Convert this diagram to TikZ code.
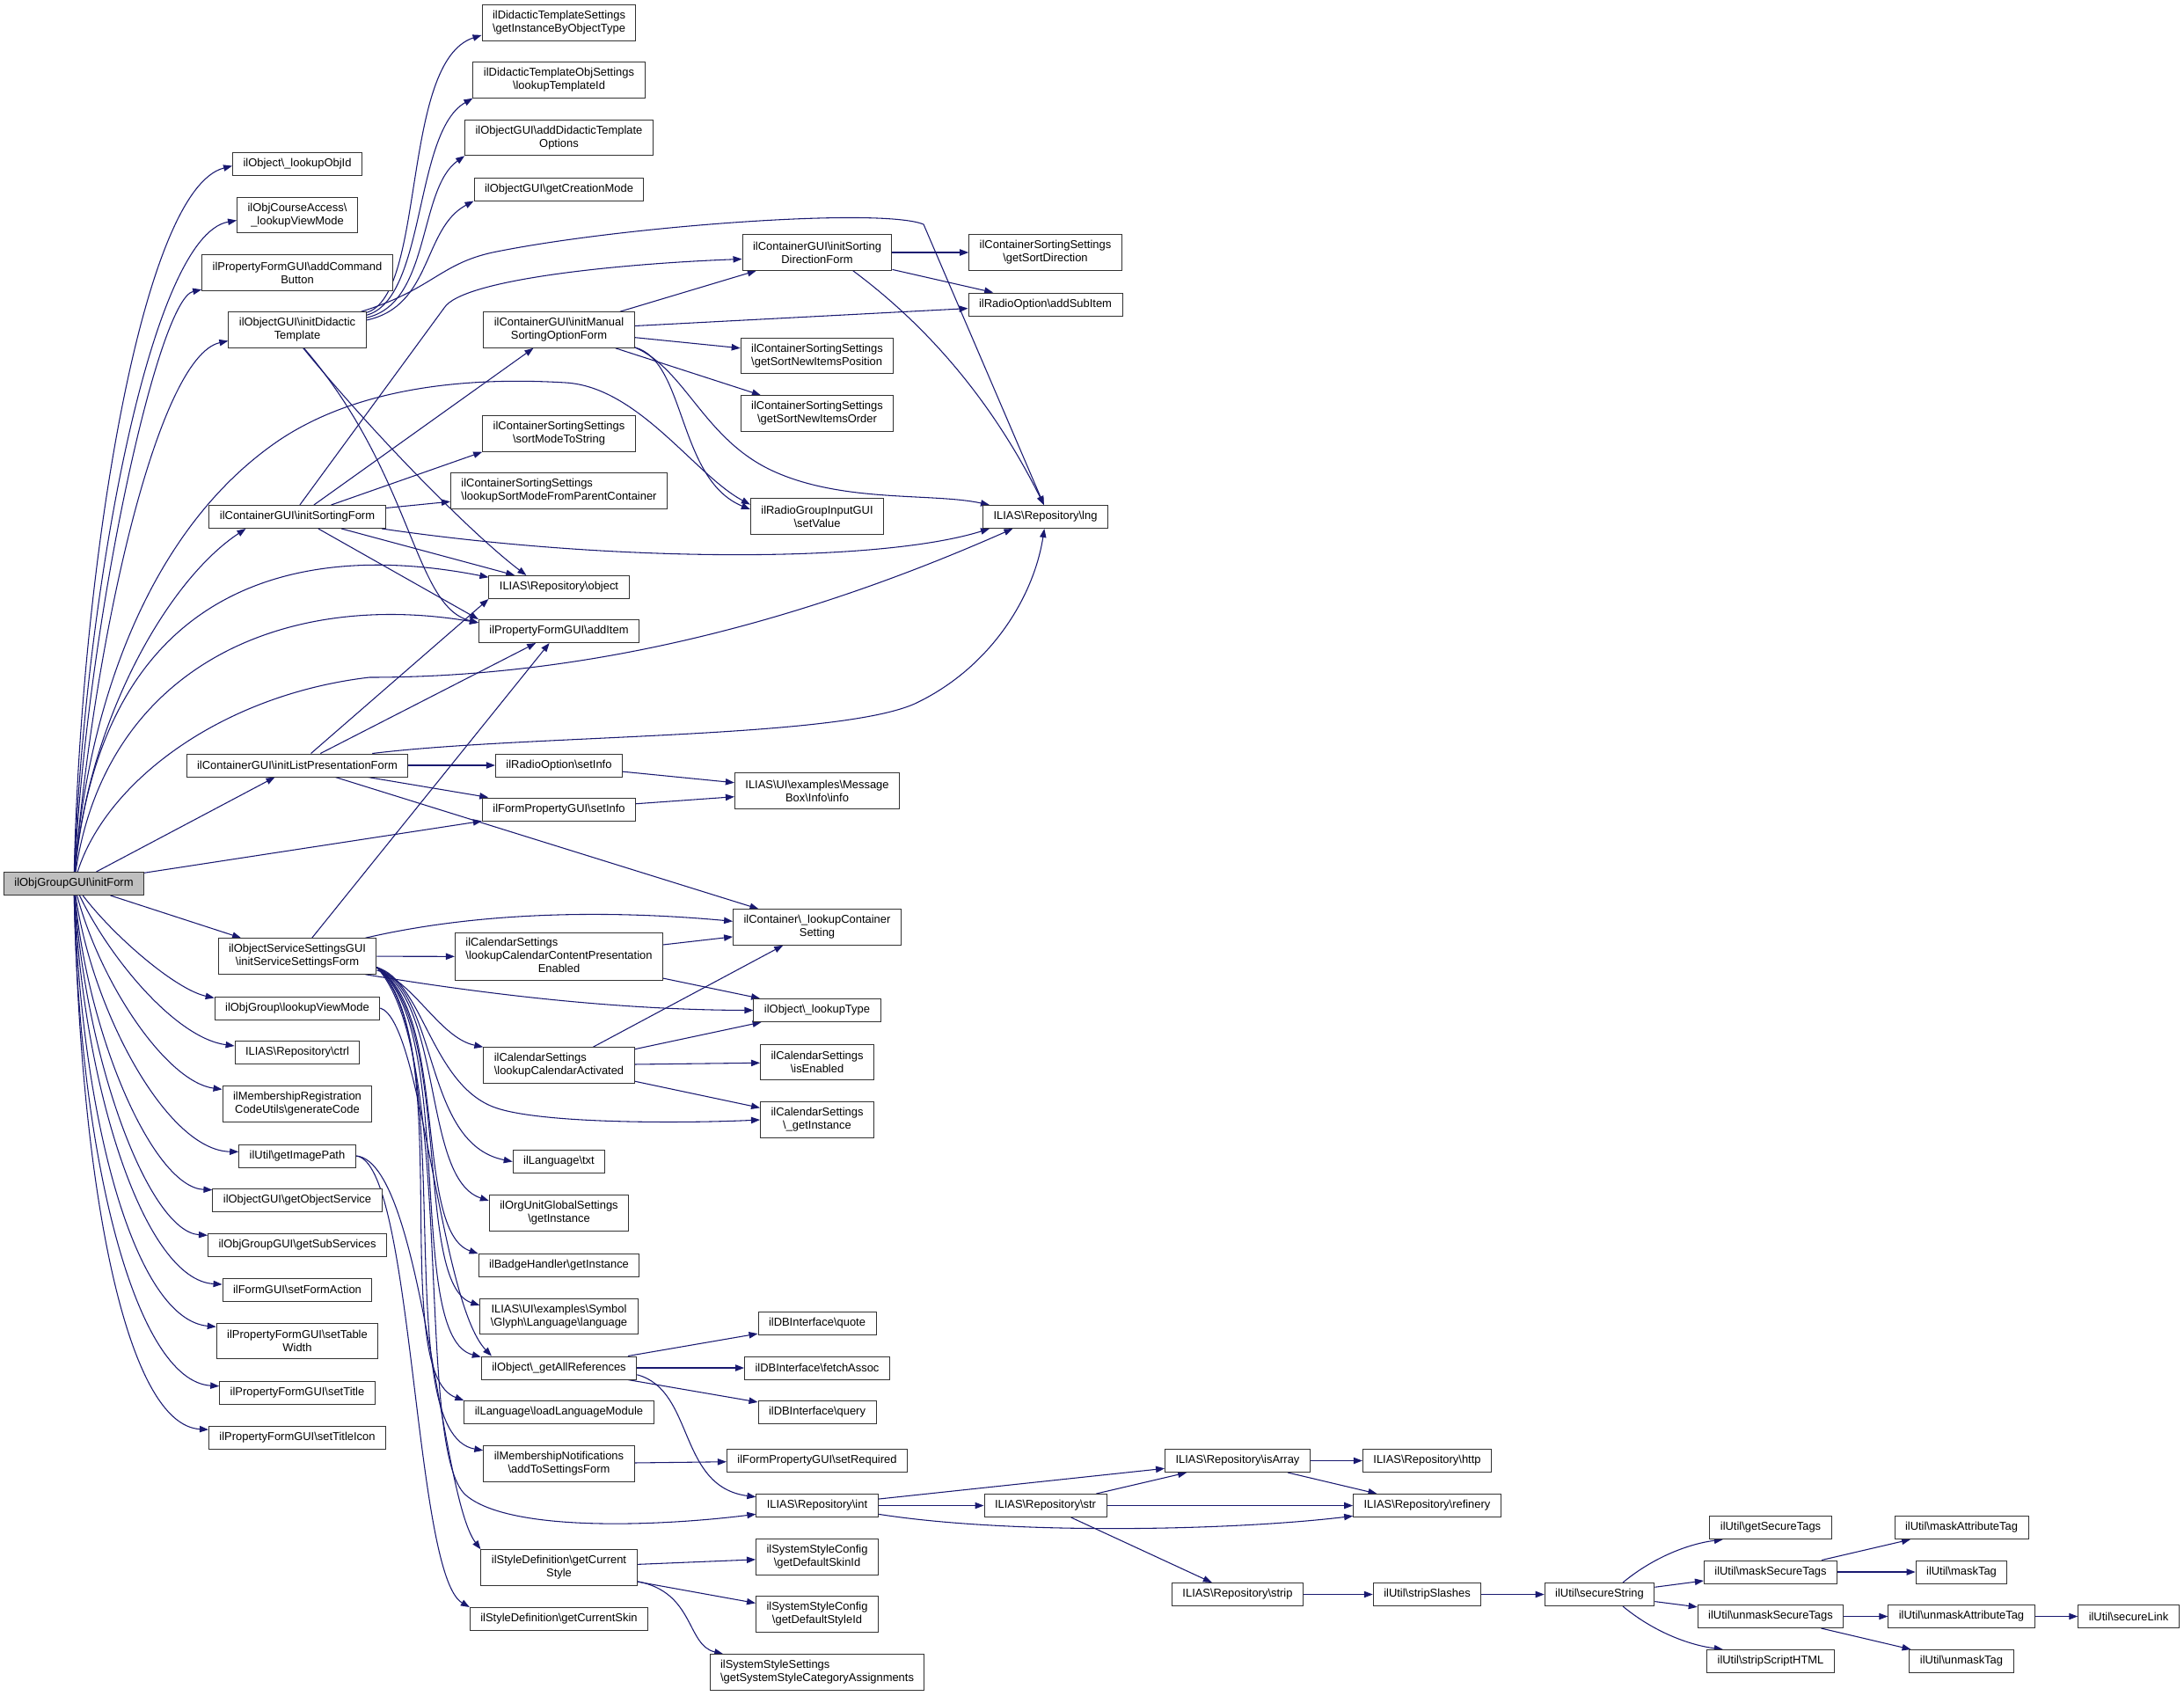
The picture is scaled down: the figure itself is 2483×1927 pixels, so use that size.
\documentclass[tikz,border=0pt]{standalone}
\usepackage{fontspec}
\setmainfont{Liberation Sans}
\usetikzlibrary{arrows.meta,backgrounds}
\definecolor{edgeblue}{rgb}{0.098,0.098,0.439}
\definecolor{rootgray}{rgb}{0.75,0.75,0.75}
\newcommand{\bsl}{\textbackslash}

\begin{document}
\begin{tikzpicture}[x=0.75pt,y=-0.75pt]
  \tikzset{fn/.style={draw=black!80,fill=white,line width=0.75pt,font=\fontsize{9.7}{11.25}\selectfont,align=center,inner xsep=9pt,inner ysep=1pt,minimum height=19.5pt}}
  \tikzset{fntwo/.style={fn,minimum height=30.4pt}}
  \tikzset{fnthree/.style={fn,minimum height=41pt}}
  \tikzset{call/.style={draw=edgeblue,line width=0.8pt,-{Triangle[length=7.5pt,width=5.5pt]}}}
  \useasboundingbox (0,0) rectangle (2483,1927);
  % root
  \node[fn,fill=rootgray] (root) at (84,1004.5) {ilObjGroupGUI\bsl initForm};
  % first column
  \node[fn] (objid) at (338,186) {ilObject\bsl\_lookupObjId};
  \node[fntwo] (crsview) at (338,244.5) {ilObjCourseAccess\bsl\\\_lookupViewMode};
  \node[fntwo] (addcmd) at (338,310) {ilPropertyFormGUI\bsl addCommand\\Button};
  \node[fntwo] (initdid) at (338,375) {ilObjectGUI\bsl initDidactic\\Template};
  \node[fn] (initsort) at (338,587.5) {ilContainerGUI\bsl initSortingForm};
  \node[fn] (initlist) at (338,870) {ilContainerGUI\bsl initListPresentationForm};
  \node[fntwo] (initserv) at (338,1087) {ilObjectServiceSettingsGUI\\\bsl initServiceSettingsForm};
  \node[fn] (grpview) at (338,1146) {ilObjGroup\bsl lookupViewMode};
  \node[fn] (ctrl) at (338,1196.5) {ILIAS\bsl Repository\bsl ctrl};
  \node[fntwo] (gencode) at (338,1255) {ilMembershipRegistration\\CodeUtils\bsl generateCode};
  \node[fn] (imgpath) at (338,1314) {ilUtil\bsl getImagePath};
  \node[fn] (objserv) at (338,1364.5) {ilObjectGUI\bsl getObjectService};
  \node[fn] (subserv) at (338,1415) {ilObjGroupGUI\bsl getSubServices};
  \node[fn] (formact) at (338,1466) {ilFormGUI\bsl setFormAction};
  \node[fntwo] (tablew) at (338,1524.5) {ilPropertyFormGUI\bsl setTable\\Width};
  \node[fn] (settitle) at (338,1583.5) {ilPropertyFormGUI\bsl setTitle};
  \node[fn] (titleicon) at (338,1634) {ilPropertyFormGUI\bsl setTitleIcon};
  % second column
  \node[fntwo] (tplinst) at (635.5,26) {ilDidacticTemplateSettings\\\bsl getInstanceByObjectType};
  \node[fntwo] (tplid) at (635.5,91) {ilDidacticTemplateObjSettings\\\bsl lookupTemplateId};
  \node[fntwo] (adddid) at (635.5,156.5) {ilObjectGUI\bsl addDidacticTemplate\\Options};
  \node[fn] (creamode) at (635.5,215) {ilObjectGUI\bsl getCreationMode};
  \node[fntwo] (initman) at (635.5,375) {ilContainerGUI\bsl initManual\\SortingOptionForm};
  \node[fntwo] (modestr) at (635.5,493) {ilContainerSortingSettings\\\bsl sortModeToString};
  \node[fntwo,align=left] (parentmode) at (635.5,558) {ilContainerSortingSettings\\\bsl lookupSortModeFromParentContainer};
  \node[fn] (object) at (635.5,667.5) {ILIAS\bsl Repository\bsl object};
  \node[fn] (additem) at (635.5,717.5) {ilPropertyFormGUI\bsl addItem};
  \node[fn] (radioinfo) at (635.5,870) {ilRadioOption\bsl setInfo};
  \node[fn] (forminfo) at (635.5,920) {ilFormPropertyGUI\bsl setInfo};
  \node[fnthree] (calpres) at (635.5,1087.5) {\begin{tabular}{@{}l@{}}ilCalendarSettings\\\bsl lookupCalendarContentPresentation\\\multicolumn{1}{@{}c@{}}{Enabled}\end{tabular}};
  \node[fntwo,align=left] (calact) at (635.5,1211) {ilCalendarSettings\\\bsl lookupCalendarActivated};
  \node[fn] (txt) at (635.5,1320.5) {ilLanguage\bsl txt};
  \node[fntwo] (orgunit) at (635.5,1379) {ilOrgUnitGlobalSettings\\\bsl getInstance};
  \node[fn] (badge) at (635.5,1438) {ilBadgeHandler\bsl getInstance};
  \node[fntwo] (glyph) at (635.5,1496.5) {ILIAS\bsl UI\bsl examples\bsl Symbol\\\bsl Glyph\bsl Language\bsl language};
  \node[fn] (allrefs) at (635.5,1555) {ilObject\bsl\_getAllReferences};
  \node[fn] (loadlang) at (635.5,1605.5) {ilLanguage\bsl loadLanguageModule};
  \node[fntwo] (notif) at (635.5,1664) {ilMembershipNotifications\\\bsl addToSettingsForm};
  \node[fntwo] (curstyle) at (635.5,1782) {ilStyleDefinition\bsl getCurrent\\Style};
  \node[fn] (curskin) at (635.5,1840.5) {ilStyleDefinition\bsl getCurrentSkin};
  % third column
  \node[fntwo] (sortdir) at (929,287) {ilContainerGUI\bsl initSorting\\DirectionForm};
  \node[fntwo,align=left] (newpos) at (929,404.5) {ilContainerSortingSettings\\\bsl getSortNewItemsPosition};
  \node[fntwo] (neworder) at (929,470) {ilContainerSortingSettings\\\bsl getSortNewItemsOrder};
  \node[fntwo] (setvalue) at (929,587) {ilRadioGroupInputGUI\\\bsl setValue};
  \node[fntwo] (msgbox) at (929,899) {ILIAS\bsl UI\bsl examples\bsl Message\\Box\bsl Info\bsl info};
  \node[fntwo] (contset) at (929,1054) {ilContainer\bsl\_lookupContainer\\Setting};
  \node[fn] (looktype) at (929,1148.5) {ilObject\bsl\_lookupType};
  \node[fntwo] (calenabled) at (929,1207.5) {ilCalendarSettings\\\bsl isEnabled};
  \node[fntwo] (calinst) at (929,1273) {ilCalendarSettings\\\bsl\_getInstance};
  \node[fn] (quote) at (929,1504.5) {ilDBInterface\bsl quote};
  \node[fn] (fetch) at (929,1555) {ilDBInterface\bsl fetchAssoc};
  \node[fn] (query) at (929,1605.5) {ilDBInterface\bsl query};
  \node[fn] (setreq) at (929,1660.5) {ilFormPropertyGUI\bsl setRequired};
  \node[fn] (int) at (929,1711.5) {ILIAS\bsl Repository\bsl int};
  \node[fntwo] (skinid) at (929,1770) {ilSystemStyleConfig\\\bsl getDefaultSkinId};
  \node[fntwo] (styleid) at (929,1835) {ilSystemStyleConfig\\\bsl getDefaultStyleId};
  \node[fntwo,align=left] (catassign) at (929,1901) {ilSystemStyleSettings\\\bsl getSystemStyleCategoryAssignments};
  % fourth column and beyond
  \node[fntwo] (sortdirset) at (1188.5,287) {ilContainerSortingSettings\\\bsl getSortDirection};
  \node[fn] (subitem) at (1188.5,346) {ilRadioOption\bsl addSubItem};
  \node[fn] (lng) at (1188.5,587.5) {ILIAS\bsl Repository\bsl lng};
  \node[fn] (str) at (1188.5,1711.5) {ILIAS\bsl Repository\bsl str};
  \node[fn] (isarray) at (1407,1660.5) {ILIAS\bsl Repository\bsl isArray};
  \node[fn] (strip) at (1407,1812.5) {ILIAS\bsl Repository\bsl strip};
  \node[fn] (http) at (1622.5,1660.5) {ILIAS\bsl Repository\bsl http};
  \node[fn] (refinery) at (1622.5,1711.5) {ILIAS\bsl Repository\bsl refinery};
  \node[fn] (slashes) at (1622.5,1812.5) {ilUtil\bsl stripSlashes};
  \node[fn] (secstr) at (1818.5,1812.5) {ilUtil\bsl secureString};
  \node[fn] (gettags) at (2013,1736.5) {ilUtil\bsl getSecureTags};
  \node[fn] (masktags) at (2013,1787) {ilUtil\bsl maskSecureTags};
  \node[fn] (unmasktags) at (2013,1837.5) {ilUtil\bsl unmaskSecureTags};
  \node[fn] (striphtml) at (2013,1888.5) {ilUtil\bsl stripScriptHTML};
  \node[fn] (maskattr) at (2230,1736.5) {ilUtil\bsl maskAttributeTag};
  \node[fn] (masktag) at (2230,1787) {ilUtil\bsl maskTag};
  \node[fn] (unmaskattr) at (2230,1837.5) {ilUtil\bsl unmaskAttributeTag};
  \node[fn] (unmasktag) at (2230,1888.5) {ilUtil\bsl unmaskTag};
  \node[fn] (seclink) at (2420,1837.5) {ilUtil\bsl secureLink};
  \begin{pgfonlayer}{background}
  % calls of the root, upwards
  \draw[call] (root) .. controls (92,650) and (160,215) .. (objid.182);
  \draw[call] (root) .. controls (96,680) and (170,268) .. (crsview.185);
  \draw[call] (root) .. controls (100,700) and (180,340) .. (addcmd.190);
  \draw[call] (root) .. controls (108,720) and (180,405) .. (initdid.189);
  \draw[call] (root) .. controls (100,820) and (190,660) .. (initsort.193);
  \draw[call] (root) .. controls (100,800) and (170,600) .. (318,500) .. controls (420,432) and (560,430) .. (643,435) .. controls (726,440) and (790,540) .. (setvalue.170);
  \draw[call] (root) .. controls (115,680) and (320,610) .. (object.172);
  \draw[call] (root) .. controls (120,760) and (320,670) .. (additem.174);
  \draw[call] (root) .. controls (120,890) and (250,790) .. (420,770) .. controls (700,770) and (950,690) .. (lng.200);
  \draw[call] (root) -- (initlist);
  \draw[call] (root) -- (forminfo);
  % calls of the root, downwards
  \draw[call] (root) -- (initserv);
  \draw[call] (root) .. controls (130,1065) and (200,1125) .. (grpview.173);
  \draw[call] (root) .. controls (125,1090) and (200,1180) .. (ctrl.174);
  \draw[call] (root) .. controls (115,1120) and (190,1230) .. (gencode.169);
  \draw[call] (root) .. controls (105,1150) and (190,1308) .. (imgpath.176);
  \draw[call] (root) .. controls (100,1180) and (175,1350) .. (objserv.173);
  \draw[call] (root) .. controls (98,1210) and (170,1400) .. (subserv.174);
  \draw[call] (root) .. controls (95,1240) and (165,1455) .. (formact.176);
  \draw[call] (root) .. controls (93,1280) and (155,1500) .. (tablew.170);
  \draw[call] (root) .. controls (90,1320) and (155,1570) .. (settitle.175);
  \draw[call] (root) .. controls (92,1360) and (145,1620) .. (titleicon.175);
  % didactic template
  \draw[call] (initdid.14) .. controls (485,335) and (455,70) .. (tplinst.189);
  \draw[call] (initdid.12) .. controls (485,340) and (470,150) .. (tplid.south west);
  \draw[call] (initdid.10) .. controls (490,345) and (475,215) .. (adddid.south west);
  \draw[call] (initdid.8) .. controls (492,348) and (480,260) .. (creamode.south west);
  \draw[call] (initdid.16) .. controls (490,330) and (500,300) .. (560,287) .. controls (700,258) and (1000,235) .. (1050,255) -- (lng.97);
  \draw[call] (initdid.288) .. controls (430,500) and (540,610) .. (object.160);
  \draw[call] (initdid.290) .. controls (470,540) and (470,690) .. (additem.174);
  % sorting form
  \draw[call] (initsort.78) -- (505,350) .. controls (525,318) and (700,300) .. (sortdir.185);
  \draw[call] (initsort) -- (initman);
  \draw[call] (initsort) -- (modestr.south west);
  \draw[call] (initsort) -- (parentmode);
  \draw[call] (initsort) -- (object);
  \draw[call] (initsort) -- (additem.north west);
  \draw[call] (initsort.352) .. controls (700,640) and (1000,640) .. (lng.192);
  \draw[call] (initman) -- (sortdir);
  \draw[call] (initman) -- (subitem);
  \draw[call] (initman) -- (newpos);
  \draw[call] (initman) -- (neworder);
  \draw[call] (initman.347) .. controls (780,410) and (770,545) .. (setvalue.174);
  \draw[call] (initman.347) .. controls (780,420) and (800,500) .. (880,536) .. controls (960,572) and (1060,560) .. (lng.168);
  \draw[call] (sortdir) -- (sortdirset);
  \draw[call] (sortdir) -- (subitem);
  \draw[call] (sortdir.333) .. controls (1040,360) and (1120,440) .. (lng.97);
  % list presentation
  \draw[call] (initlist) -- (object.south west);
  \draw[call] (initlist) -- (additem);
  \draw[call] (initlist.9) .. controls (600,835) and (950,840) .. (1040,800) .. controls (1125,760) and (1175,680) .. (lng.265);
  \draw[call] (initlist) -- (radioinfo);
  \draw[call] (initlist) -- (forminfo);
  \draw[call] (initlist) -- (contset);
  \draw[call] (radioinfo) -- (msgbox);
  \draw[call] (forminfo) -- (msgbox);
  % service settings
  \draw[call] (initserv) -- (additem);
  \draw[call] (initserv.15) .. controls (550,1035) and (700,1035) .. (contset.176);
  \draw[call] (initserv) -- (calpres);
  \draw[call] (initserv.345) .. controls (550,1130) and (700,1148) .. (looktype.west);
  \draw[call] (initserv.350) .. controls (470,1115) and (500,1180) .. (calact.north west);
  \draw[call] (initserv.352) .. controls (480,1115) and (490,1230) .. (560,1258) .. controls (610,1278) and (780,1277) .. (calinst.west);
  \draw[call] (initserv.352) .. controls (500,1130) and (480,1300) .. (txt.west);
  \draw[call] (initserv.352) .. controls (505,1140) and (480,1340) .. (orgunit.170);
  \draw[call] (initserv.352) .. controls (510,1150) and (470,1400) .. (badge.172);
  \draw[call] (initserv.352) .. controls (515,1160) and (470,1460) .. (glyph.172);
  \draw[call] (initserv.352) .. controls (520,1170) and (460,1520) .. (allrefs.172);
  \draw[call] (initserv.352) .. controls (520,1180) and (440,1560) .. (loadlang.north west);
  \draw[call] (initserv.352) .. controls (525,1190) and (440,1630) .. (notif.170);
  \draw[call] (initserv.352) .. controls (520,1200) and (470,1650) .. (530,1700) .. controls (580,1742) and (750,1735) .. (int.188);
  \draw[call] (grpview.east) .. controls (480,1160) and (500,1480) .. (allrefs.170);
  \draw[call] (imgpath.east) .. controls (480,1320) and (500,1700) .. (curstyle.north west);
  \draw[call] (imgpath.east) .. controls (470,1320) and (470,1790) .. (curskin.north west);
  \draw[call] (calpres) -- (contset);
  \draw[call] (calpres) -- (looktype);
  \draw[call] (calact) -- (contset);
  \draw[call] (calact) -- (looktype);
  \draw[call] (calact) -- (calenabled);
  \draw[call] (calact) -- (calinst);
  % database, requests and styles
  \draw[call] (allrefs) -- (quote);
  \draw[call] (allrefs) -- (fetch);
  \draw[call] (allrefs) -- (query);
  \draw[call] (allrefs.355) .. controls (790,1580) and (770,1690) .. (int.172);
  \draw[call] (notif) -- (setreq);
  \draw[call] (curstyle) -- (skinid);
  \draw[call] (curstyle) -- (styleid);
  \draw[call] (curstyle.350) .. controls (790,1810) and (780,1870) .. (catassign.169);
  \draw[call] (int) -- (isarray);
  \draw[call] (int) -- (str);
  \draw[call] (int.352) .. controls (1150,1745) and (1400,1740) .. (refinery.188);
  \draw[call] (str) -- (isarray);
  \draw[call] (str) -- (refinery);
  \draw[call] (str) -- (strip);
  \draw[call] (isarray) -- (http);
  \draw[call] (isarray) -- (refinery);
  \draw[call] (strip) -- (slashes);
  \draw[call] (slashes) -- (secstr);
  \draw[call] (secstr.27) .. controls (1880,1770) and (1920,1755) .. (gettags.194);
  \draw[call] (secstr) -- (masktags);
  \draw[call] (secstr) -- (unmasktags);
  \draw[call] (secstr.333) .. controls (1880,1855) and (1920,1870) .. (striphtml.166);
  \draw[call] (masktags) -- (maskattr);
  \draw[call] (masktags) -- (masktag);
  \draw[call] (unmasktags) -- (unmaskattr);
  \draw[call] (unmasktags) -- (unmasktag);
  \draw[call] (unmaskattr) -- (seclink);
  \end{pgfonlayer}
\end{tikzpicture}
\end{document}
